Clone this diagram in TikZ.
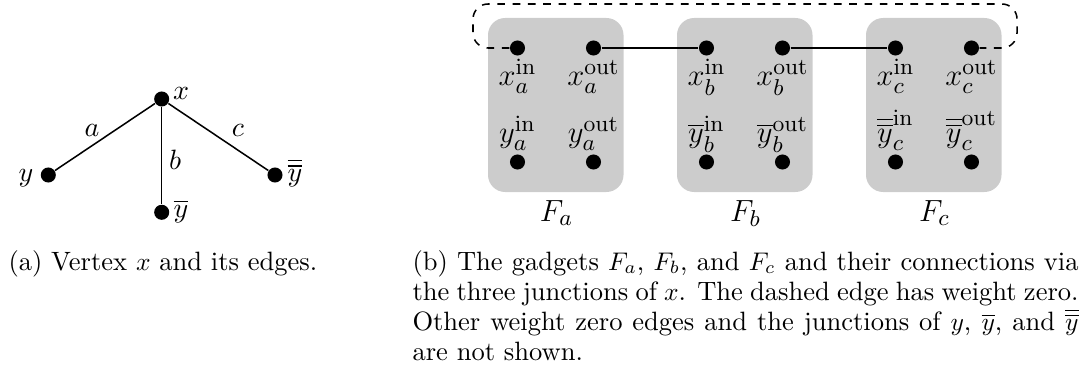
\documentclass[tikz,border=0pt]{standalone}
\usepackage{amsmath}
\begin{document}
\begin{tikzpicture}[x=0.39216pt,y=-0.39216pt,
  dot/.style={circle,fill=black,inner sep=0pt,minimum size=5.9pt},
  lbl/.style={inner sep=0pt,font=\fontsize{10.5pt}{12.5pt}\selectfont},
  blbl/.style={inner sep=0pt,anchor=base,font=\fontsize{13pt}{15pt}\selectfont},
  gadget/.style={fill=black!20,rounded corners=6.7pt},
  edgeline/.style={line width=0.6pt},
  zeroedge/.style={dashed,line width=0.6pt,rounded corners=5.9pt},
  capline/.style={inner sep=0pt,anchor=base west,font=\fontsize{10.4pt}{12pt}\selectfont}]
\useasboundingbox (0,0) rectangle (1086,372);

% ---------- (a) ----------
\node[dot] (x)   at (161.7,99)  {};
\node[dot] (y)   at (48.3,175)  {};
\node[dot] (yb)  at (161.7,212.3) {};
\node[dot] (ybb) at (275,175)   {};
\draw[edgeline] (x) -- (y);
\draw[edgeline] (x) -- (yb);
\draw[edgeline] (x) -- (ybb);
\node[lbl] (lx)   at (181,93)  {$x$};
\node[lbl] (ly)   at (26,178)  {$y$};
\node[lbl] (lyb)  at (181,211) {$\overline{y}$};
\node[lbl] (lybb) at (295,173) {$\overline{\overline{y}}$};
\node[lbl] (la) at (92,130)  {$a$};
\node[lbl] (lb) at (175,160) {$b$};
\node[lbl] (lc) at (238,130) {$c$};

% ---------- (b) ----------
\fill[gadget] (488,18) rectangle (623.5,192);
\fill[gadget] (677,18) rectangle (812.5,192);
\fill[gadget] (866,18) rectangle (1001.5,192);

\node[dot] (xain)  at (517.5,48) {};
\node[dot] (xaout) at (593.5,48) {};
\node[dot] (yain)  at (517.5,162) {};
\node[dot] (yaout) at (593.5,162) {};
\node[dot] (xbin)  at (706.5,48) {};
\node[dot] (xbout) at (782.5,48) {};
\node[dot] (ybin)  at (706.5,162) {};
\node[dot] (ybout) at (782.5,162) {};
\node[dot] (xcin)  at (895.5,48) {};
\node[dot] (xcout) at (971.5,48) {};
\node[dot] (ycin)  at (895.5,162) {};
\node[dot] (ycout) at (971.5,162) {};

\node[blbl] (lxain)  at (517.5,86) {$x_a^{\mathrm{in}}$};
\node[blbl] (lxaout) at (593.5,86) {$x_a^{\mathrm{out}}$};
\node[blbl] (lyain)  at (517.5,143) {$y_a^{\mathrm{in}}$};
\node[blbl] (lyaout) at (593.5,143) {$y_a^{\mathrm{out}}$};
\node[blbl] (lxbin)  at (706.5,86) {$x_b^{\mathrm{in}}$};
\node[blbl] (lxbout) at (782.5,86) {$x_b^{\mathrm{out}}$};
\node[blbl] (lybin)  at (706.5,143) {$\overline{y}_b^{\mathrm{in}}$};
\node[blbl] (lybout) at (782.5,143) {$\overline{y}_b^{\mathrm{out}}$};
\node[blbl] (lxcin)  at (895.5,86) {$x_c^{\mathrm{in}}$};
\node[blbl] (lxcout) at (971.5,86) {$x_c^{\mathrm{out}}$};
\node[blbl] (lycin)  at (895.5,143) {$\overline{\overline{y}}_c^{\mathrm{in}}$};
\node[blbl] (lycout) at (971.5,143) {$\overline{\overline{y}}_c^{\mathrm{out}}$};

\node[blbl] (Fa) at (556.5,221) {$F_a$};
\node[blbl] (Fb) at (745.5,221) {$F_b$};
\node[blbl] (Fc) at (934.5,221) {$F_c$};

\draw[edgeline] (xaout) -- (xbin);
\draw[edgeline] (xbout) -- (xcin);
\coordinate (d1) at (473,48);
\coordinate (d2) at (473,4);
\coordinate (d3) at (1017,4);
\coordinate (d4) at (1017,48);
\draw[zeroedge] (xain.west) -- (d1) -- (d2) -- (d3) -- (d4) -- (xcout.east);

% ---------- captions ----------
\node[capline] (capa) at (8,270) {(a) Vertex $x$ and its edges.};
\node[capline] (capb1) at (412,270) {\makebox[261.2pt][s]{(b) The gadgets $F_a$, $F_b$, and $F_c$ and their connections via}};
\node[capline] (capb2) at (412,300) {\makebox[261.2pt][s]{the three junctions of $x$. The dashed edge has weight zero.}};
\node[capline] (capb3) at (412,330) {\makebox[261.2pt][s]{Other weight zero edges and the junctions of $y$, $\overline{y}$, and $\overline{\overline{y}}$}};
\node[capline] (capb4) at (412,360) {are not shown.};
\end{tikzpicture}
\end{document}
